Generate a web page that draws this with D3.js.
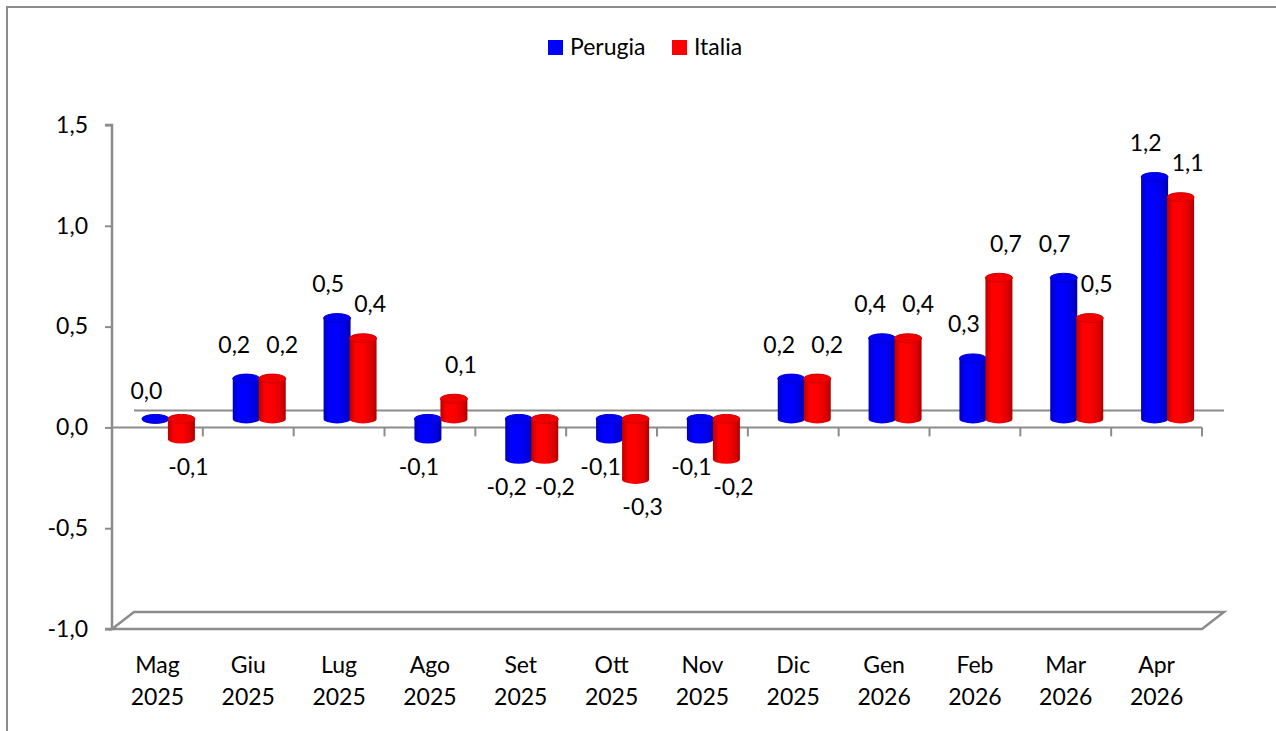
<!DOCTYPE html>
<html>
<head>
<meta charset="utf-8">
<script src="https://cdn.jsdelivr.net/npm/d3@7"></script>
<style>
  body { margin: 0; background: #fff; }
  svg text { font-family: Lato, "Open Sans", sans-serif; fill: #000; }
</style>
</head>
<body>
<svg id="chart" width="1276" height="731"></svg>
<script>
// data
var months = ["Mag", "Giu", "Lug", "Ago", "Set", "Ott", "Nov", "Dic", "Gen", "Feb", "Mar", "Apr"];
var years = ["2025", "2025", "2025", "2025", "2025", "2025", "2025", "2025", "2026", "2026", "2026", "2026"];
var perugia = [0.0, 0.2, 0.5, -0.1, -0.2, -0.1, -0.1, 0.2, 0.4, 0.3, 0.7, 1.2];
var italia = [-0.1, 0.2, 0.4, 0.1, -0.2, -0.3, -0.2, 0.2, 0.4, 0.7, 0.5, 1.1];
var yTicks = [-1.0, -0.5, 0.0, 0.5, 1.0, 1.5];
var seriesNames = ["Perugia", "Italia"];
var seriesColors = ["#0000ff", "#ff0000"];

var svg = d3.select("#chart");
var W = 1276, H = 731;
var pLeft = 112, pRight = 1202, pTop = 125, pBottom = 629;
var depthX = 22, depthY = -17;   // oblique offset of the back plane
var axisCol = "#8c8c8c";
var fs = 23;

var itFmt = d3.formatLocale({decimal: ",", thousands: ".", grouping: [3], currency: ["", "€"], minus: "-"}).format(".1f");

var keys = months.map(function(m, i) { return i; });
var x = d3.scaleBand().domain(keys).range([pLeft, pRight]);
var y = d3.scaleLinear().domain([-1, 1.5]).range([pBottom, pTop]);

// outer frame
svg.append("path")
  .attr("d", "M7," + H + "V7H" + W)
  .attr("fill", "none").attr("stroke", axisCol).attr("stroke-width", 2);

// gradients for the cylinders
var defs = svg.append("defs");
function addGrad(id, c) {
  var base = d3.color(c);
  var g = defs.append("linearGradient").attr("id", id).attr("x1", "0%").attr("x2", "100%");
  [[0, base.darker(0.9)], [0.22, base.brighter(0.25)], [0.5, base], [0.8, base.darker(0.35)], [1, base.darker(1.1)]]
    .forEach(function(s) { g.append("stop").attr("offset", s[0]).attr("stop-color", s[1]); });
}
addGrad("g0", seriesColors[0]);
addGrad("g1", seriesColors[1]);

// floor at -1
var fy = y(-1);
svg.append("path")
  .attr("d", "M" + pLeft + "," + fy + "L" + (pLeft + depthX) + "," + (fy + depthY) +
             "H" + (pRight + depthX) + "L" + pRight + "," + fy + "Z")
  .attr("fill", "none").attr("stroke", axisCol).attr("stroke-width", 2.5);

// zero plane: back line and front line with ticks
var zy = y(0);
svg.append("line")
  .attr("x1", pLeft + depthX).attr("x2", pRight + depthX)
  .attr("y1", zy + depthY).attr("y2", zy + depthY)
  .attr("stroke", axisCol).attr("stroke-width", 2);
svg.append("line")
  .attr("x1", pLeft).attr("x2", pRight).attr("y1", zy).attr("y2", zy)
  .attr("stroke", axisCol).attr("stroke-width", 2);
svg.selectAll("line.ctick")
  .data(keys.concat([keys.length]))
  .enter().append("line")
  .attr("class", "ctick")
  .attr("x1", function(k) { return k < keys.length ? x(k) : pRight; })
  .attr("x2", function(k) { return k < keys.length ? x(k) : pRight; })
  .attr("y1", zy).attr("y2", zy + 9)
  .attr("stroke", axisCol).attr("stroke-width", 2);

// y axis
var yAxis = svg.append("g")
  .attr("transform", "translate(" + pLeft + ",0)")
  .call(d3.axisLeft(y).tickValues(yTicks).tickSize(7).tickPadding(17).tickFormat(itFmt));
yAxis.select(".domain").attr("stroke", axisCol).attr("stroke-width", 2.5).attr("d", "M-7," + pTop + "H0V" + pBottom + "H-7");
yAxis.selectAll(".tick line").attr("stroke", axisCol).attr("stroke-width", 2);
yAxis.selectAll(".tick text").attr("font-size", fs).attr("font-family", "Lato, sans-serif").attr("fill", "#000");

// category labels
var cat = svg.append("g").selectAll("text")
  .data(keys).enter().append("text")
  .attr("text-anchor", "middle")
  .attr("font-size", fs)
  .attr("x", function(k) { return x(k) + x.bandwidth() / 2; });
cat.append("tspan").attr("x", function(k) { return x(k) + x.bandwidth() / 2; }).attr("y", 673).text(function(k) { return months[k]; });
cat.append("tspan").attr("x", function(k) { return x(k) + x.bandwidth() / 2; }).attr("y", 705).text(function(k) { return years[k]; });

// bars: mid-depth positions
var barW = 27, ry = 4.5;
var ym = function(v) { return y(v) + depthY / 2; };
var bars = [];
keys.forEach(function(k) {
  var c = x(k) + x.bandwidth() / 2 + depthX / 2;
  [perugia[k], italia[k]].forEach(function(v, s) {
    bars.push({k: k, s: s, v: v, cx: c + (s === 0 ? -13 : 13)});
  });
});

var barG = svg.append("g");
bars.forEach(function(b) {
  var g = barG.append("g");
  var rx = barW / 2;
  var yTop = Math.min(ym(b.v), ym(0)), yBot = Math.max(ym(b.v), ym(0));
  var col = d3.color(seriesColors[b.s]);
  if (yBot - yTop > 0.5) {
    g.append("path")
      .attr("d", "M" + (b.cx - rx) + "," + yTop + "V" + yBot +
                 "A" + rx + "," + ry + " 0 0 0 " + (b.cx + rx) + "," + yBot +
                 "V" + yTop + "Z")
      .attr("fill", "url(#g" + b.s + ")");
  }
  g.append("ellipse")
    .attr("cx", b.cx).attr("cy", yTop).attr("rx", rx).attr("ry", ry)
    .attr("fill", col.darker(0.15))
    .attr("stroke", col.darker(0.6)).attr("stroke-width", 1);
});

// data labels; pairs at the same height are pushed apart a little more
function labelY(v) { return v > 0 ? ym(v) - 26 : (v === 0 ? ym(0) - 20 : ym(v) + 36); }
var labG = svg.append("g");
bars.forEach(function(b) {
  var other = b.s === 0 ? italia[b.k] : perugia[b.k];
  var close = Math.abs(labelY(b.v) - labelY(other)) < 15;
  var dx = b.s === 0 ? (close ? -12 : -9) : (close ? 10 : 7);
  labG.append("text")
    .attr("x", b.cx + dx)
    .attr("y", labelY(b.v))
    .attr("text-anchor", "middle")
    .attr("font-size", fs)
    .text(itFmt(b.v));
});

// legend
var leg = svg.append("g").attr("transform", "translate(548,40)");
var lx = [0, 124];
seriesNames.forEach(function(n, i) {
  leg.append("rect").attr("x", lx[i]).attr("y", 0).attr("width", 15).attr("height", 15)
    .attr("fill", seriesColors[i]);
  leg.append("text").attr("x", lx[i] + 22).attr("y", 15).attr("font-size", fs).text(n);
});
</script>
</body>
</html>
